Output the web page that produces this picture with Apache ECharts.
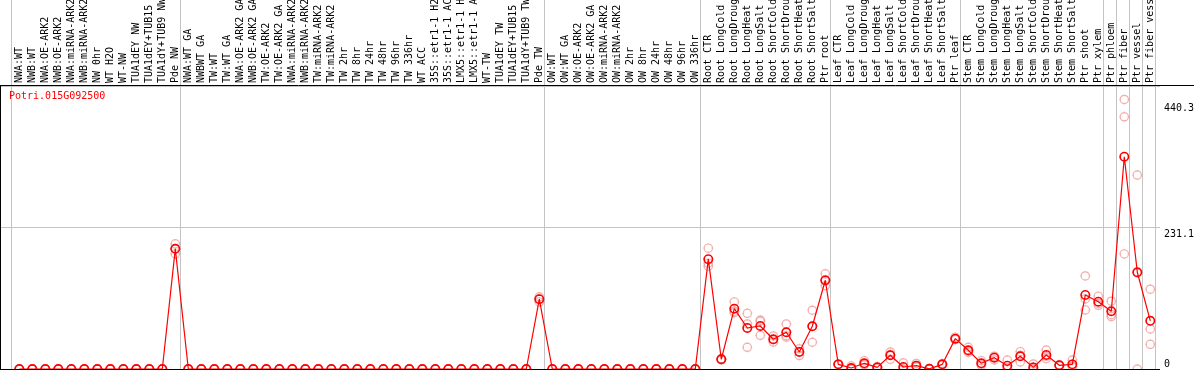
<!DOCTYPE html>
<html><head><meta charset="utf-8">
<script src="https://cdn.jsdelivr.net/npm/echarts@6/dist/echarts.min.js"></script>
<style>html,body{margin:0;padding:0;background:#fff;overflow:hidden}#c{width:1194px;height:370px}</style>
</head><body><div id="c"></div>
<script>
const chartTitle = 'Potri.015G092500';
const categories = [
 'NWA:WT','NWB:WT','NWA:OE-ARK2','NWB:OE-ARK2','NWA:miRNA-ARK2','NWB:miRNA-ARK2','NW 0hr','WT H2O','WT-NW','TUA1dEY NW','TUA1dEY+TUB15 NW','TUA1dY+TUB9 NW','Pde NW',
 'NWA:WT GA','NWBWT GA','TW:WT','TW:WT GA','NWA:OE-ARK2 GA','NWB:OE-ARK2 GA','TW:OE-ARK2','TW:OE-ARK2 GA','NWA:miRNA-ARK2 GA','NWB:miRNA-ARK2 GA','TW:miRNA-ARK2','TW:miRNA-ARK2 GA',
 'TW 2hr','TW 8hr','TW 24hr','TW 48hr','TW 96hr','TW 336hr','WT ACC','35S::etr1-1 H2O','35S::etr1-1 ACC','LMX5::etr1-1 H2O','LMX5::etr1-1 ACC','WT-TW','TUA1dEY TW','TUA1dEY+TUB15 TW','TUA1dY+TUB9 TW','Pde TW',
 'OW:WT','OW:WT GA','OW:OE-ARK2','OW:OE-ARK2 GA','OW:miRNA-ARK2','OW:miRNA-ARK2 GA','OW 2hr','OW 8hr','OW 24hr','OW 48hr','OW 96hr','OW 336hr',
 'Root CTR','Root LongCold','Root LongDrought','Root LongHeat','Root LongSalt','Root ShortCold','Root ShortDrought','Root ShortHeat','Root ShortSalt','Ptr root',
 'Leaf CTR','Leaf LongCold','Leaf LongDrought','Leaf LongHeat','Leaf LongSalt','Leaf ShortCold','Leaf ShortDrought','Leaf ShortHeat','Leaf ShortSalt','Ptr leaf',
 'Stem CTR','Stem LongCold','Stem LongDrought','Stem LongHeat','Stem LongSalt','Stem ShortCold','Stem ShortDrought','Stem ShortHeat','Stem ShortSalt',
 'Ptr shoot','Ptr xylem','Ptr phloem','Ptr fiber','Ptr vessel','Ptr fiber vessel'
];
// mean expression per sample
const means = [
 0,0,0,0,0,0,0,0,0,0,0,0, 196.3,
 0,0,0,0,0,0,0,0,0, 0,0,0,0,0,0,0,0,0, 0,0,0,0,0,0,0,0,0, 114,
 0,0,0,0,0,0,0,0,0,0,0,0,
 179.4,15.9,98.6,67,70.3,48.6,60,27.8,69.8,145,
 7.6,1.6,9.3,2.7,22.4,3.3,5.5,0.3,7.6,49.6,
 30.6,9.3,18.5,5.4,20.7,2.7,22.9,6,7.6,
 121,110,94.3,346.8,158,78.7
];
// individual replicates
const rep1 = [
 0,0,0,0,0,0,0,0,0,0,0,0, 204.4,
 0,0,0,0,0,0,0,0,0, 0,0,0,0,0,0,0,0,0, 0,0,0,0,0,0,0,0,0, 118,
 0,0,0,0,0,0,0,0,0,0,0,0,
 197.4,17,109.6,91,80,54,73.6,33,96,155.4,
 8,5,13.6,4,27.8,10,9,0.5,9,52,
 35.5,13.6,21,14.7,28.3,8.2,31,7,14.7,
 152,119,110.7,440.3,316.8,130.3
];
const rep2 = [
 0,0,0,0,0,0,0,0,0,0,0,0, 188,
 0,0,0,0,0,0,0,0,0, 0,0,0,0,0,0,0,0,0, 0,0,0,0,0,0,0,0,0, 109.6,
 0,0,0,0,0,0,0,0,0,0,0,0,
 172.9,15,92,73.6,78,44,52,22,43.7,136,
 7,0,7,2,15.8,0,4,0.3,7,48,
 27,6,14.7,1,11.5,0,17,5,4,
 96.5,104,88.8,412,157.2,65.4
];
const rep3 = [
 0,0,0,0,0,0,0,0,0,0,0,0, 196.5,
 0,0,0,0,0,0,0,0,0, 0,0,0,0,0,0,0,0,0, 0,0,0,0,0,0,0,0,0, 114.4,
 0,0,0,0,0,0,0,0,0,0,0,0,
 167.9,15.7,94.2,35.5,55,47.8,54.4,28.4,69.7,143.6,
 7.8,0,7.3,2,23.6,0,3.5,0.1,6.8,48.8,
 29.3,8.3,19.8,0.5,22.3,0,20.7,6,4.1,
 114.5,107,85.6,188,0,40.3
];
// first sample of each group (separator lines)
const groupStarts = [0, 13, 41, 53, 63, 73, 84, 85, 86, 87];
const yTickLabels = [231.1, 440.3];
const yZeroLabel = [0];
const yMax = 462.3;
const yMid = 231.15;

const FONT = 'DejaVu Sans Mono';
const GRID_TOP = 86, GRID_BOTTOM = 1;
const sym = 'path://M1,6A5,5,0,1,1,11,6A5,5,0,1,1,1,6ZM6,0L6,2M6,10L6,12M0,6L2,6M10,6L12,6';
const sepInterval = (i) => groupStarts.indexOf(i) >= 0;
const sepLine = {show: true, interval: sepInterval, lineStyle: {color: '#c4c4c4', width: 1}};
const labelFont = {fontFamily: FONT, fontSize: 10, color: '#000'};

const chart = echarts.init(document.getElementById('c'), null, {renderer: 'canvas'});
const repSeries = [rep1, rep2, rep3].map(r => ({
  type: 'scatter', xAxisIndex: 0, yAxisIndex: 0, data: r,
  symbol: sym, symbolSize: 10, silent: true, z: 2,
  itemStyle: {color: 'rgba(0,0,0,0)', borderColor: '#f09a9a', borderWidth: 1.2}
}));
chart.setOption({
  animation: false,
  backgroundColor: '#fff',
  title: {text: chartTitle, left: 9, top: 91, padding: 0,
    textStyle: {color: '#ff0000', fontFamily: FONT, fontSize: 10, fontWeight: 'normal'}},
  grid: [
    // data + sample labels
    {left: 12.8, right: 37.2, top: GRID_TOP, bottom: GRID_BOTTOM, containLabel: false, outerBoundsMode: 'none'},
    // group separators, label band
    {left: 11.5, right: 38.5, top: 0, height: GRID_TOP, containLabel: false, outerBoundsMode: 'none'},
    // value frame
    {left: 0, right: 34, top: GRID_TOP, bottom: GRID_BOTTOM, containLabel: false, outerBoundsMode: 'none'},
    // group separators, plot band
    {left: 11.5, right: 38.5, top: GRID_TOP, bottom: GRID_BOTTOM, containLabel: false, outerBoundsMode: 'none'}
  ],
  xAxis: [
    {type: 'category', data: categories, gridIndex: 0, position: 'top', boundaryGap: true,
      axisLine: {show: false}, axisTick: {show: false},
      axisLabel: Object.assign({interval: 0, rotate: 90, margin: 3}, labelFont),
      splitLine: {show: false}},
    {type: 'category', data: categories, gridIndex: 1, position: 'top', boundaryGap: true,
      axisLine: {show: false}, axisTick: {show: false}, axisLabel: {show: false},
      splitLine: sepLine},
    {type: 'value', gridIndex: 2, show: false, min: 0, max: 1},
    {type: 'category', data: categories, gridIndex: 3, position: 'top', boundaryGap: true,
      axisLine: {show: false}, axisTick: {show: false}, axisLabel: {show: false},
      splitLine: sepLine}
  ],
  yAxis: [
    {type: 'value', gridIndex: 0, min: 0, max: yMax, show: false, splitLine: {show: false}},
    {type: 'value', gridIndex: 1, min: 0, max: 1, show: false},
    {type: 'value', gridIndex: 2, min: 0, max: yMax, interval: yMid, position: 'right',
      axisLine: {show: false}, axisTick: {show: false},
      splitLine: {show: true, lineStyle: {color: '#c4c4c4', width: 1}},
      axisLabel: Object.assign({customValues: yTickLabels, verticalAlign: 'top', align: 'left', margin: 4,
        formatter: v => (v > 300 ? '{hi|' : '{mid|') + v + '}',
        rich: {hi: Object.assign({padding: [4, 0, 0, 0]}, labelFont), mid: Object.assign({padding: [2, 0, 0, 0]}, labelFont)}}, labelFont)},
    {type: 'value', gridIndex: 2, min: 0, max: yMax, position: 'right',
      axisLine: {show: false}, axisTick: {show: false}, splitLine: {show: false},
      axisLabel: Object.assign({customValues: yZeroLabel, verticalAlign: 'bottom', align: 'left', margin: 4,
        formatter: v => String(v)}, labelFont)},
    {type: 'value', gridIndex: 3, min: 0, max: 1, show: false}
  ],
  series: repSeries.concat([{
    type: 'line', xAxisIndex: 0, yAxisIndex: 0, data: means,
    symbol: sym, symbolSize: 10, showAllSymbol: true, silent: true, z: 3,
    lineStyle: {color: '#ff0000', width: 1.2},
    itemStyle: {color: 'rgba(0,0,0,0)', borderColor: '#ff0000', borderWidth: 1.6}
  }]),
  graphic: [
    {type: 'line', shape: {x1: 0, y1: 85.5, x2: 1194, y2: 85.5}, style: {stroke: '#000', lineWidth: 1}, z: 10, silent: true},
    {type: 'line', shape: {x1: 0.5, y1: 86, x2: 0.5, y2: 370}, style: {stroke: '#000', lineWidth: 1}, z: 10, silent: true},
    {type: 'line', shape: {x1: 0, y1: 369.5, x2: 1160, y2: 369.5}, style: {stroke: '#000', lineWidth: 1}, z: 10, silent: true}
  ]
});
</script></body></html>
